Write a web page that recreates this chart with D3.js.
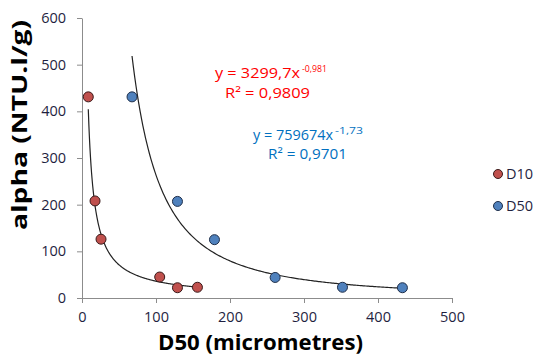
<!DOCTYPE html>
<html><head><meta charset="utf-8">
<script src="https://cdn.jsdelivr.net/npm/d3@7"></script>
<style>body{margin:0;background:#fff}svg{display:block}</style>
</head><body>
<svg id="c" width="536" height="358"></svg>
<script>
const xTicks = [0,100,200,300,400,500];
const yTicks = [0,100,200,300,400,500,600];
const d10X = [8.5,17.6,25.7,105,129,156];
const d10Y = [431,208,126,45,22,23];
const d50X = [67.6,129,179,261,352,433];
const d50Y = [431,207,125,44,23,22];
const seriesNames = ["D10","D50"];
const fitA = [3299.7, 759674];
const fitB = [-0.981, -1.73];
const eqText = [["y = 3299,7x","-0,981","R² = 0,9809"],["y = 759674x","-1,73","R² = 0,9701"]];

const svg=d3.select("#c");
const x=d3.scaleLinear().domain([0,500]).range([82,452]);
const y=d3.scaleLinear().domain([0,600]).range([298,18]);
const font="'Open Sans', sans-serif";
const tickCol="#1f1f3f";
const axisCol="#8c8c8c";

const gx=svg.append("g").attr("transform","translate(0,298)")
  .call(d3.axisBottom(x).tickValues(xTicks).tickSize(5).tickSizeOuter(0).tickPadding(9));
const gy=svg.append("g").attr("transform","translate(82,0)")
  .call(d3.axisLeft(y).tickValues(yTicks).tickSize(5).tickSizeOuter(0).tickPadding(11));
[gx,gy].forEach(g=>{
  g.selectAll("path,line").attr("stroke",axisCol);
  g.selectAll("text").attr("fill",tickCol).style("font-family",font).style("font-size","14.5px");
});

svg.append("text").attr("x",260.5).attr("y",350).attr("text-anchor","middle")
  .style("font-family",font).style("font-weight","bold").style("font-size","21px").attr("fill","#000")
  .attr("textLength",205).attr("lengthAdjust","spacingAndGlyphs")
  .text("D50 (micrometres)");
svg.append("text").attr("transform","translate(27,125) rotate(-90)").attr("text-anchor","middle")
  .style("font-family",font).style("font-weight","bold").style("font-size","21px").attr("fill","#000")
  .attr("textLength",210).attr("lengthAdjust","spacingAndGlyphs")
  .text("alpha (NTU.l/g)");

// trend lines
const line=d3.line().x(d=>x(d[0])).y(d=>y(d[1]));
[d10X,d50X].forEach((xs,i)=>{
  const lo=d3.min(xs),hi=d3.max(xs);
  const pts=d3.range(0,201).map(k=>{const xv=lo+(hi-lo)*k/200;return [xv,fitA[i]*Math.pow(xv,fitB[i])];});
  svg.append("path").datum(pts).attr("d",line).attr("fill","none").attr("stroke","#222").attr("stroke-width",1.2);
});

const fills=["#c0504d","#4f81bd"];
const strokes=["#3a1a1a","#1f2f4a"];
[[d10X,d10Y],[d50X,d50Y]].forEach((s,i)=>{
  svg.append("g").selectAll("circle").data(s[0].map((v,k)=>[v,s[1][k]])).join("circle")
    .attr("cx",d=>x(d[0])).attr("cy",d=>y(d[1])).attr("r",5)
    .attr("fill",fills[i]).attr("stroke",strokes[i]).attr("stroke-width",1);
});

// equations
const eqCol=["#ff0000","#0070c0"];
const eqPos=[[215,85,302,25,78,225,85,98],[253,80,335,28,140,268,79,159]];
eqText.forEach((e,i)=>{
  const p=eqPos[i];
  svg.append("text").attr("x",p[0]).attr("y",p[4])
    .style("font-family",font).style("font-size","14px").attr("fill",eqCol[i])
    .attr("textLength",p[1]).attr("lengthAdjust","spacingAndGlyphs").text(e[0]);
  svg.append("text").attr("x",p[2]).attr("y",p[4]-6)
    .style("font-family",font).style("font-size","9.5px").attr("fill",eqCol[i])
    .attr("textLength",p[3]).attr("lengthAdjust","spacingAndGlyphs").text(e[1]);
  svg.append("text").attr("x",p[5]).attr("y",p[7])
    .style("font-family",font).style("font-size","14px").attr("fill",eqCol[i])
    .attr("textLength",p[6]).attr("lengthAdjust","spacingAndGlyphs").text(e[2]);
});

// legend
seriesNames.forEach((n,i)=>{
  const ly=174+i*32;
  svg.append("circle").attr("cx",498).attr("cy",ly).attr("r",4.5).attr("fill",fills[i]).attr("stroke",strokes[i]);
  svg.append("text").attr("x",506).attr("y",ly+5).style("font-family",font).style("font-size","14.5px").attr("fill",tickCol).text(n);
});
</script>
</body></html>
